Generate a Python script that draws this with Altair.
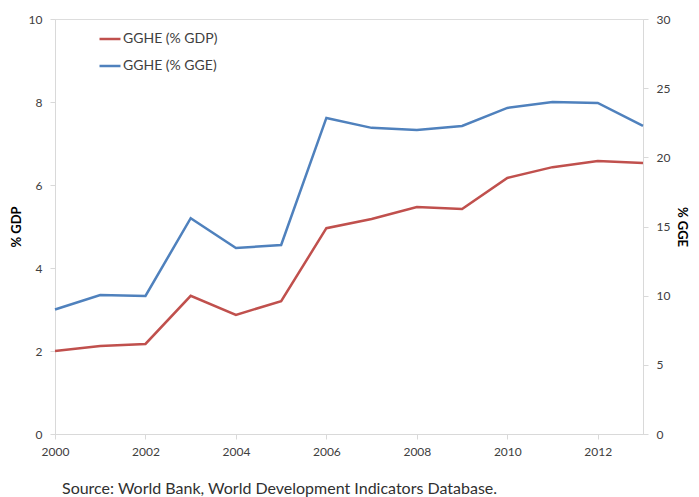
import altair as alt
import pandas as pd

years = list(range(2000, 2014))
gghe_gdp = [2.0, 2.12, 2.17, 3.33, 2.87, 3.2, 4.96, 5.18, 5.47, 5.42, 6.17, 6.43, 6.58, 6.53]
gghe_gge = [9.0, 10.05, 9.98, 15.6, 13.45, 13.66, 22.85, 22.13, 21.98, 22.27, 23.57, 24.0, 23.93, 22.27]
series_names = ["GGHE (% GDP)", "GGHE (% GGE)"]
colors = ["#C0504D", "#4F81BD"]
x_ticks = [2000, 2002, 2004, 2006, 2008, 2010, 2012]
left_ticks = [0, 2, 4, 6, 8, 10]
right_ticks = [0, 5, 10, 15, 20, 25, 30]
source = "Source: World Bank, World Development Indicators Database."

df = pd.DataFrame({
    "year": years * 2,
    "value": gghe_gdp + gghe_gge,
    "series": [series_names[0]] * len(years) + [series_names[1]] * len(years),
})

grey = "#D9D9D9"
txt = "#404040"
font = "Lato"

xenc = alt.X("year:Q", scale=alt.Scale(domain=[2000, 2013], nice=False),
             axis=alt.Axis(values=x_ticks, format="d", title=None, grid=False, labelFlush=False,
                           domainColor=grey, tickColor=grey, tickSize=5,
                           labelColor=txt, labelFontSize=12, labelFont=font, labelPadding=7))

color = alt.Color("series:N", scale=alt.Scale(domain=series_names, range=colors),
                  legend=alt.Legend(title=None, orient="none", legendX=43, legendY=8,
                                    symbolType="stroke", symbolSize=441, symbolStrokeWidth=2.5,
                                    labelFontSize=14, labelFont=font, labelColor=txt,
                                    rowPadding=8, labelOffset=1))

left = alt.Chart(df).transform_filter(alt.datum.series == series_names[0]).mark_line(strokeWidth=2.5).encode(
    x=xenc,
    y=alt.Y("value:Q", scale=alt.Scale(domain=[0, 10], nice=False),
            axis=alt.Axis(values=left_ticks, title="% GDP", grid=False, orient="left", labelFlush=False,
                          domainColor=grey, tickColor=grey, tickSize=5,
                          labelColor=txt, labelFontSize=12, labelFont=font, labelPadding=8,
                          titleFontSize=13, titleFont=font, titleFontWeight="bold", titleColor="#000000",
                          titlePadding=5)),
    color=color,
)

right = alt.Chart(df).transform_filter(alt.datum.series == series_names[1]).mark_line(strokeWidth=2.5).encode(
    x=xenc,
    y=alt.Y("value:Q", scale=alt.Scale(domain=[0, 30], nice=False),
            axis=alt.Axis(values=right_ticks, title="% GGE", grid=False, orient="right", labelFlush=False,
                          domainColor=grey, tickColor=grey, tickSize=5,
                          labelColor=txt, labelFontSize=12, labelFont=font, labelPadding=8,
                          titleFontSize=13, titleFont=font, titleFontWeight="bold", titleColor="#000000",
                          titleAngle=90, titlePadding=5)),
    color=color,
)

chart = alt.layer(left, right).resolve_scale(y="independent").properties(
    width=588, height=415,
    autosize=alt.AutoSizeParams(type="none"),
    padding={"left": 47, "top": 11, "right": 48, "bottom": 63},
    title=alt.TitleParams(text=source, orient="bottom", anchor="start", frame="group", fontSize=16,
                          font=font, fontWeight="normal", color="#303030", offset=24, dx=7),
).configure_view(stroke=None).configure(background="white")

chart.save("out.html", embed_options={"renderer": "svg", "actions": False})
